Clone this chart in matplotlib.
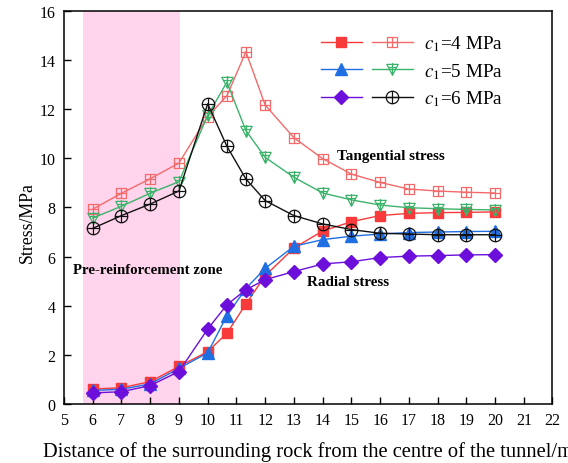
import matplotlib
matplotlib.use("Agg")
import matplotlib.pyplot as plt
from matplotlib.path import Path
from matplotlib.legend_handler import HandlerTuple
from matplotlib.ticker import MultipleLocator

plt.rcParams['font.family'] = ['Liberation Serif', 'DejaVu Serif']
plt.rcParams['mathtext.fontset'] = 'stix'

# Distance from tunnel centre (m)
distance = [6, 7, 8, 9, 10, 10.67, 11.33, 12, 13, 14, 15, 16, 17, 18, 19, 20]

# Tangential stress (MPa)
tang_c4 = [7.93, 8.58, 9.17, 9.81, 11.70, 12.55, 14.34, 12.17, 10.84, 9.99, 9.36, 9.02, 8.75, 8.67, 8.62, 8.59]
tang_c5 = [7.57, 8.05, 8.58, 9.05, 11.75, 13.10, 11.13, 10.04, 9.23, 8.59, 8.31, 8.10, 7.99, 7.95, 7.92, 7.90]
tang_c6 = [7.15, 7.67, 8.14, 8.67, 12.22, 10.49, 9.16, 8.28, 7.67, 7.33, 7.10, 6.95, 6.92, 6.89, 6.89, 6.89]

# Radial stress (MPa)
rad_c4 = [0.61, 0.66, 0.91, 1.53, 2.13, 2.88, 4.07, 5.22, 6.35, 7.04, 7.42, 7.67, 7.76, 7.79, 7.80, 7.82]
rad_c5 = [0.55, 0.60, 0.82, 1.45, 2.08, 3.60, 4.70, 5.52, 6.42, 6.69, 6.83, 6.92, 6.98, 7.00, 7.02, 7.03]
rad_c6 = [0.45, 0.50, 0.75, 1.32, 3.05, 4.04, 4.65, 5.06, 5.39, 5.70, 5.79, 5.96, 6.02, 6.04, 6.07, 6.08]

labels = [r'$c_1$=4 MPa', r'$c_1$=5 MPa', r'$c_1$=6 MPa']
zone_start, zone_end = 5.65, 9.05


def crossed(shape):
    """Hollow marker outline with a cross drawn through it."""
    if shape == 'square':
        outline = Path([(-1, -1), (1, -1), (1, 1), (-1, 1), (-1, -1)],
                       [Path.MOVETO, Path.LINETO, Path.LINETO, Path.LINETO, Path.CLOSEPOLY])
        cross = Path([(0, -1), (0, 1), (-1, 0), (1, 0)],
                     [Path.MOVETO, Path.LINETO, Path.MOVETO, Path.LINETO])
    elif shape == 'tri_down':
        outline = Path([(-1, 0.9), (1, 0.9), (0, -1), (-1, 0.9)],
                       [Path.MOVETO, Path.LINETO, Path.LINETO, Path.CLOSEPOLY])
        cross = Path([(0, -1), (0, 1.1), (-0.7, 0.35), (0.7, 0.35)],
                     [Path.MOVETO, Path.LINETO, Path.MOVETO, Path.LINETO])
    else:
        outline = Path.unit_circle()
        cross = Path([(0, -1), (0, 1), (-1, 0), (1, 0)],
                     [Path.MOVETO, Path.LINETO, Path.MOVETO, Path.LINETO])
    return Path.make_compound_path(outline, cross)


fig = plt.figure(figsize=(5.68, 4.64), dpi=100)
ax = fig.add_axes([0.1127, 0.1272, 0.8600, 0.8470])

ax.axvspan(zone_start, zone_end, color='#FFD4EC', lw=0, zorder=0)

red_dark, red_light = '#F83A3A', '#F46A6A'
blue, green = '#1F6FE3', '#3BB36A'
purple, black = '#6C0FDB', '#111111'

r4, = ax.plot(distance, rad_c4, color=red_dark, lw=1, marker='s', ms=7, zorder=3)
r5, = ax.plot(distance, rad_c5, color=blue, lw=1, marker='^', ms=8, zorder=3)
r6, = ax.plot(distance, rad_c6, color=purple, lw=1, marker='D', ms=7.5, zorder=4)

t4, = ax.plot(distance, tang_c4, color=red_light, lw=1, marker=crossed('square'), ms=7.5,
              mfc='none', mew=0.9, zorder=3)
t5, = ax.plot(distance, tang_c5, color=green, lw=1, marker=crossed('tri_down'), ms=9,
              mfc='none', mew=0.9, zorder=3)
t6, = ax.plot(distance, tang_c6, color=black, lw=1, marker=crossed('circle'), ms=9,
              mfc='none', mew=0.9, zorder=3)

ax.set_xlim(5, 22)
ax.set_ylim(0, 16)
ax.xaxis.set_major_locator(MultipleLocator(1))
ax.yaxis.set_major_locator(MultipleLocator(2))
ax.tick_params(direction='in', length=5, width=1, labelsize=11.5,
               top=False, right=False, pad=6)
for sp in ax.spines.values():
    sp.set_linewidth(1.1)

ax.set_ylabel('Stress/MPa', fontsize=12.8)
ax.yaxis.set_label_coords(-0.058, 0.465)
ax.set_xlabel('Distance of the surrounding rock from the centre of the tunnel/m',
              fontsize=14.8, labelpad=9)

ax.text(14.49, 10.1, 'Tangential stress', fontsize=10.9, fontweight='bold', va='center')
ax.text(13.45, 5.0, 'Radial stress', fontsize=10.9, fontweight='bold', va='center')
ax.text(5.31, 5.46, 'Pre-reinforcement zone', fontsize=10.7, fontweight='bold', va='center')

leg = ax.legend([(r4, t4), (r5, t5), (r6, t6)], labels,
                handler_map={tuple: HandlerTuple(ndivide=None, pad=0.55)},
                loc='upper left', bbox_to_anchor=(0.51, 0.962), frameon=False,
                fontsize=13.8, handlelength=4.8, handletextpad=0.6,
                labelspacing=0.4, borderaxespad=0)

fig.savefig('out.png', dpi=100)
